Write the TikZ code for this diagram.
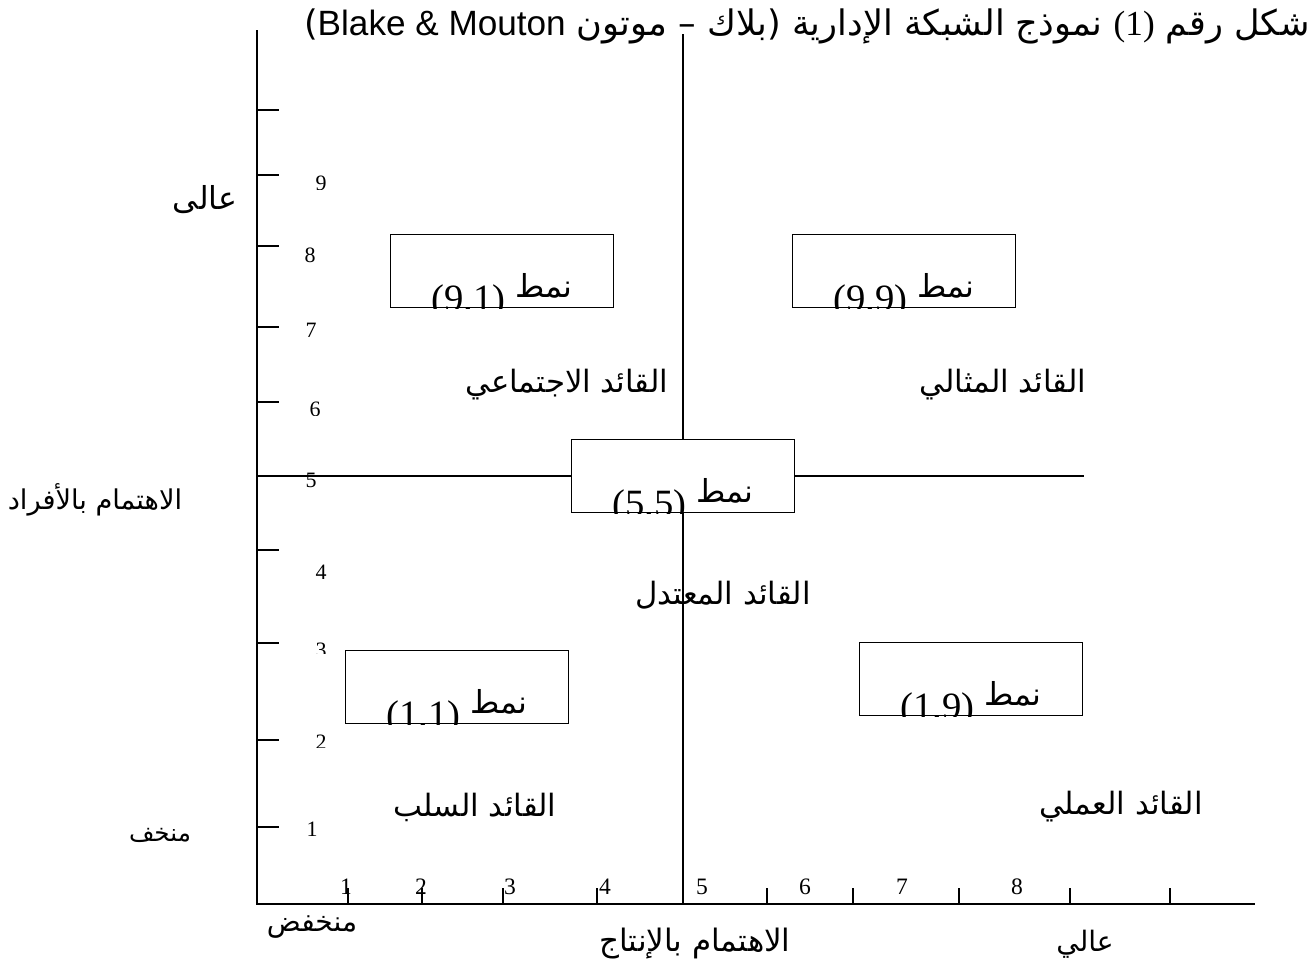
\documentclass[tikz,border=0pt]{standalone}
\usepackage{fontspec}
\setmainfont{Liberation Serif}
\newfontfamily\arfont[Script=Arabic]{DejaVu Sans}
\newfontfamily\latsans{Liberation Sans}
\TeXXeTstate=1
\usetikzlibrary{positioning}

\tikzset{
  axisline/.style={line width=1.15pt},
  gridline/.style={line width=1.05pt},
  stylebox/.style={draw,line width=0.95pt,fill=white,minimum width=4.46cm,minimum height=1.46cm,inner sep=0pt},
  boxtext/.style={anchor=base,inner sep=0pt,font=\fontsize{22}{24}\selectfont},
  leader/.style={font=\arfont\fontsize{17.5}{20}\selectfont},
  axlabel/.style={font=\arfont\fontsize{16}{18}\selectfont},
  ticknum/.style={font=\fontsize{12.5}{14}\selectfont,inner sep=0pt},
  xnum/.style={font=\fontsize{13.4}{15}\selectfont,inner sep=0pt},
}

\begin{document}
\begin{tikzpicture}[x=0.02cm,y=-0.02cm]
\useasboundingbox (0,0) rectangle (1314,967);

% title line
\node[anchor=base east,inner sep=0pt,font=\arfont\fontsize{20}{22}\selectfont] (title) at (1310,35)
  {\beginR شكل رقم \beginL{\rmfamily(1)}\endL{} نموذج الشبكة الإدارية (بلاك – موتون \beginL{\latsans Blake \& Mouton}\endL)\endR};

% axes and the two centre lines
\coordinate (ytop) at (257,30);
\coordinate (orig) at (257,904);
\coordinate (xend) at (1255,904);
\draw[axisline] (ytop) -- (orig) -- (xend);
\coordinate (vtop) at (683,34);
\coordinate (vbot) at (683,904);
\coordinate (hleft) at (257,476);
\coordinate (hright) at (1084,476);
\draw[gridline] (vtop) -- (vbot);
\draw[gridline,line width=1.3pt] (hleft) -- (hright);

% ticks
\foreach \y in {110,175,246,327,402,550,643,740,827}
  \draw[gridline] (257,\y) -- ++(22,0);
\foreach \x in {348,422,503,597,767,853,959,1070,1170}
  \draw[gridline] (\x,904) -- ++(0,-16);

% scale numbers (some are cut off at the bottom)
\foreach \n/\x/\t/\c in {9/321/176/189,8/310/248/300,7/311/323/360,6/315/402/415,5/311/473/487,4/321/565/600,3/321/643/653,2/321/735/747,1/312/822/860}{
  \begin{scope}
    \clip (\x-20,\t-5) rectangle (\x+20,\c);
    \node[ticknum,anchor=north] (ny\n) at (\x,\t) {\n};
  \end{scope}
}
\foreach \n/\x in {1/346,2/421,3/510,4/605,5/702,6/805,7/902,8/1017}
  \node[xnum] (nx\n) at (\x,887) {\n};

% axis names
\node[axlabel,font=\arfont\fontsize{18}{20}\selectfont] (hiy) at (205,200) {عالى};
\node[axlabel,font=\arfont\fontsize{15.5}{18}\selectfont] (people) at (95,500) {\beginR الاهتمام بالأفراد\endR};
\node[axlabel,font=\arfont\fontsize{14}{16}\selectfont] (lowy) at (160,835) {منخف};
\node[axlabel] (lowx) at (312,927) {منخفض};
\node[axlabel,font=\arfont\fontsize{17.6}{19}\selectfont] (prod) at (695,944) {\beginR الاهتمام بالإنتاج\endR};
\node[axlabel] (hix) at (1085,944) {عالي};

% style boxes, text sits on the lower edge
\foreach \name/\x/\y/\val in {b91/502/271/9.1,b99/904/271/9.9,b55/683/476/5.5,b11/457/687/1.1,b19/971/679/1.9}{
  \node[stylebox] (\name) at (\x,\y) {};
  \begin{scope}
    \clip (\name.south west) rectangle (\name.north east);
    \node[boxtext] (\name-txt) at ([yshift=-1.7pt]\name.south)
      {\beginR{\arfont\fontsize{18}{20}\selectfont\raisebox{8pt}{نمط}}\ \beginL(\val)\endL\endR};
  \end{scope}
}

% leader types
\node[leader] (social) at (567,385) {\beginR القائد الاجتماعي\endR};
\node[leader] (ideal) at (1003,385) {\beginR القائد المثالي\endR};
\node[leader] (middle) at (723,595) {\beginR القائد المعتدل\endR};
\node[leader] (passive) at (475,807) {\beginR القائد السلب\endR};
\node[leader] (task) at (1121,807) {\beginR القائد العملي\endR};
\end{tikzpicture}
\end{document}
